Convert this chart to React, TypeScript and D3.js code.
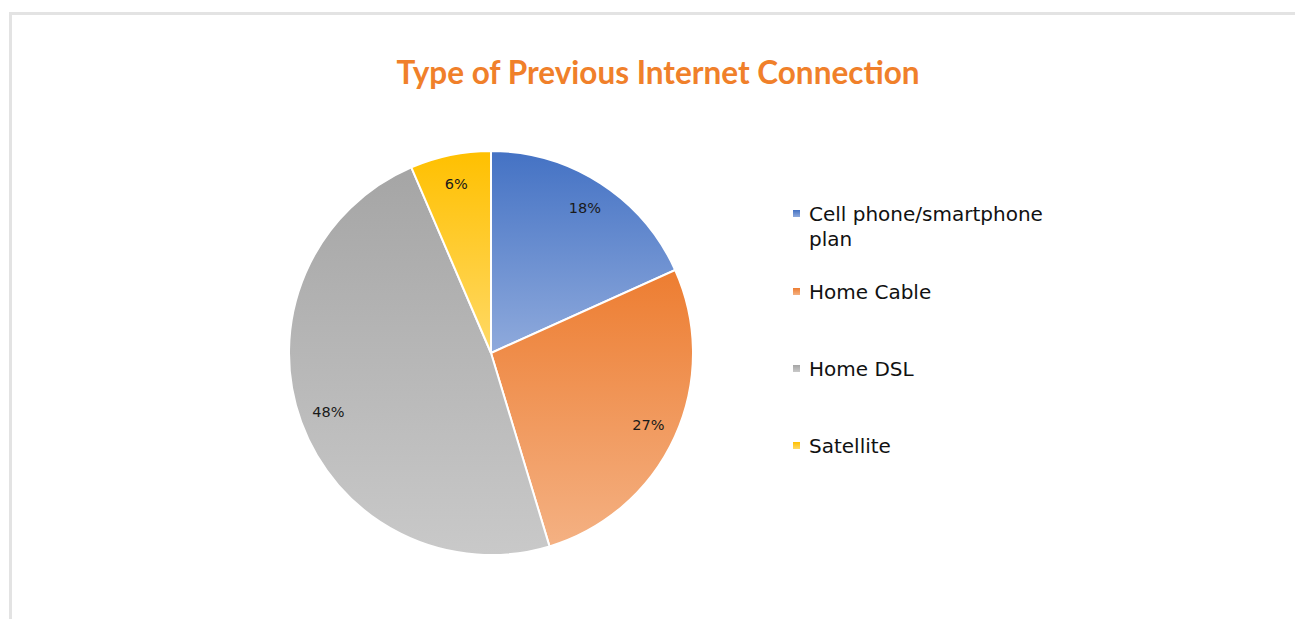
import React from "react";
import * as d3 from "d3";

const categories = ["Cell phone/smartphone plan", "Home Cable", "Home DSL", "Satellite"];
const values = [18.25, 27.05, 48.2, 6.45];
const legendLines = [["Cell phone/smartphone", "plan"], ["Home Cable"], ["Home DSL"], ["Satellite"]];
const topColors = ["#4472C4", "#ED7D31", "#A5A5A5", "#FFC000"];
const bottomColors = ["#8FAADC", "#F4B183", "#C9C9C9", "#FFD966"];

const W = 1295;
const H = 619;
const cx = 491;
const cy = 353;
const R = 202;

export default function App() {
  const pie = d3.pie<number>().sort(null).value((d) => d);
  const arcs = pie(values);
  const total = d3.sum(values);
  const arc = d3.arc<d3.PieArcDatum<number>>().innerRadius(0).outerRadius(R);
  const labelArc = d3.arc<d3.PieArcDatum<number>>().innerRadius(173).outerRadius(173);
  const legendY = d3.scaleOrdinal<string, number>().domain(categories).range([214, 292, 369, 446]);

  return (
    <svg width={W} height={H} style={{ position: "absolute", left: 0, top: 0, background: "#fff" }}>
      <defs>
        {categories.map((c, i) => (
          <linearGradient key={c} id={`g${i}`} x1="0" y1="0" x2="0" y2="1">
            <stop offset="0" stopColor={topColors[i]} />
            <stop offset="1" stopColor={bottomColors[i]} />
          </linearGradient>
        ))}
      </defs>
      <rect x={0} y={0} width={W} height={H} fill="#fff" />
      <line x1={9} y1={13.5} x2={W} y2={13.5} stroke="#e3e3e3" strokeWidth={3} />
      <line x1={10.5} y1={12} x2={10.5} y2={H} stroke="#e3e3e3" strokeWidth={3} />
      <text
        x={658}
        y={84}
        textAnchor="middle"
        fill="#F0802A"
        fontFamily="Lato, 'Open Sans', sans-serif"
        fontWeight={700}
        fontSize={31.5}
      >
        Type of Previous Internet Connection
      </text>
      <g transform={`translate(${cx},${cy})`}>
        {arcs.map((a, i) => (
          <path key={categories[i]} d={arc(a) || ""} fill={`url(#g${i})`} stroke="#fff" strokeWidth={2} />
        ))}
        {arcs.map((a, i) => {
          const [x, y] = labelArc.centroid(a);
          return (
            <text
              key={`l${i}`}
              x={x}
              y={y}
              dy="0.35em"
              textAnchor="middle"
              fill="#1a1a1a"
              fontFamily="'DejaVu Sans', sans-serif"
              fontSize={14.5}
            >
              {`${Math.round((a.data / total) * 100)}%`}
            </text>
          );
        })}
      </g>
      {categories.map((c, i) => {
        const y = legendY(c);
        return (
          <g key={`lg${i}`}>
            <rect x={793} y={y - 4} width={7} height={7} fill={`url(#g${i})`} />
            {legendLines[i].map((t, j) => (
              <text
                key={t}
                x={809}
                y={y + j * 25}
                dy="0.35em"
                fill="#111"
                fontFamily="'DejaVu Sans', sans-serif"
                fontSize={20}
              >
                {t}
              </text>
            ))}
          </g>
        );
      })}
    </svg>
  );
}
